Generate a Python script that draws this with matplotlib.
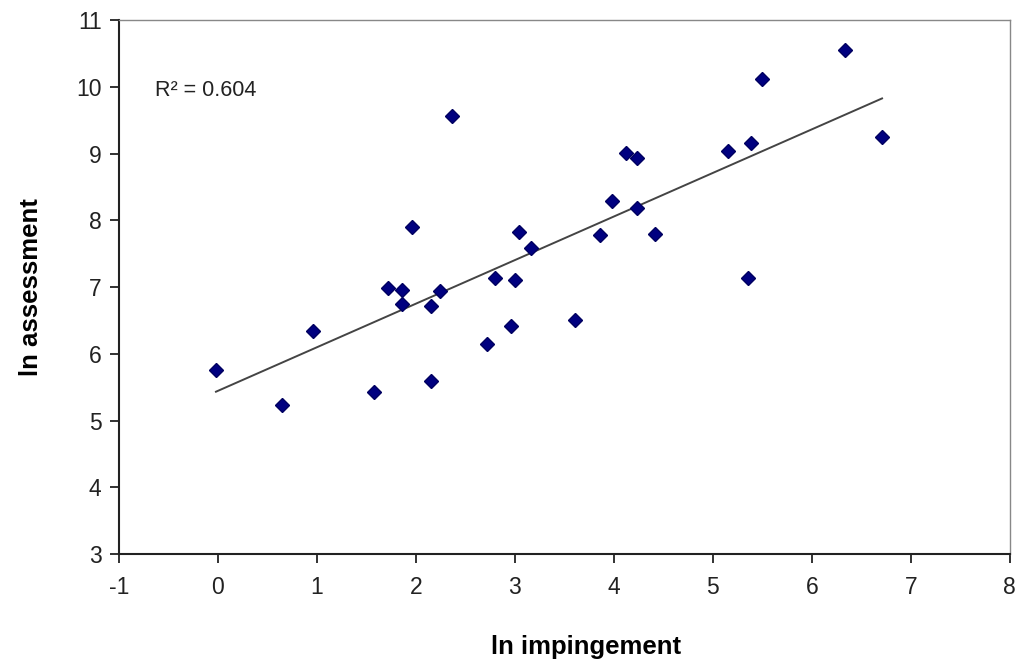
import numpy as np
import matplotlib
matplotlib.use("Agg")
import matplotlib.pyplot as plt

plt.rcParams['font.family'] = ['Liberation Sans', 'DejaVu Sans']
plt.rcParams['axes.unicode_minus'] = False

ln_impingement = [-0.02, 0.65, 0.96, 1.58, 1.72, 1.86, 1.86, 1.96, 2.15, 2.15,
                  2.24, 2.36, 2.72, 2.80, 2.96, 3.00, 3.04, 3.16, 3.61, 3.86,
                  3.98, 4.12, 4.23, 4.23, 4.42, 5.15, 5.36, 5.39, 5.50, 6.34, 6.71]
ln_assessment = [5.76, 5.23, 6.34, 5.43, 6.99, 6.95, 6.75, 7.90, 6.72, 5.59,
                 6.94, 9.56, 6.15, 7.13, 6.41, 7.10, 7.83, 7.59, 6.51, 7.78,
                 8.29, 9.01, 8.93, 8.19, 7.80, 9.04, 7.13, 9.15, 10.11, 10.55, 9.25]
r2_label = "R² = 0.604"
x_ticks = list(range(-1, 9))
y_ticks = list(range(3, 12))

x = np.array(ln_impingement)
y = np.array(ln_assessment)

fig = plt.figure(figsize=(10.22, 6.66), dpi=100)
ax = fig.add_axes([0.1164, 0.168, 0.988 - 0.1164, 0.970 - 0.168])

slope, intercept = np.polyfit(x, y, 1)
xl = np.array([x.min(), x.max()])
ax.plot(xl, slope * xl + intercept, color='#444444', lw=1.4, zorder=2)
ax.plot(x, y, linestyle='none', marker='D', ms=7.0, color='#000080',
        markeredgecolor='#000060', zorder=3)

ax.set_xlim(-1, 8)
ax.set_ylim(3, 11)
ax.set_xticks(x_ticks)
ax.set_yticks(y_ticks)
ax.set_xticklabels([str(t) for t in x_ticks])
ax.set_yticklabels([str(t) for t in y_ticks])
ax.tick_params(direction='out', length=6.5, width=1.3, labelsize=16.5, colors='#222222')
ax.tick_params(axis='x', pad=9)
ax.tick_params(axis='y', pad=6)

for s in ['left', 'bottom']:
    ax.spines[s].set_color('#222222')
    ax.spines[s].set_linewidth(1.5)
for s in ['top', 'right']:
    ax.spines[s].set_color('#888888')
    ax.spines[s].set_linewidth(1.0)

ax.set_xlabel('ln impingement', fontsize=18.5, fontweight='bold')
ax.set_ylabel('ln assessment', fontsize=18.5, fontweight='bold')
ax.xaxis.set_label_coords(0.5245, -0.152)
ax.yaxis.set_label_coords(-0.085, 0.5)

ax.text(-0.64, 9.95, r2_label, fontsize=15.5, va='center', ha='left', color='#222222')

fig.savefig('out.png', dpi=100, facecolor='white')
